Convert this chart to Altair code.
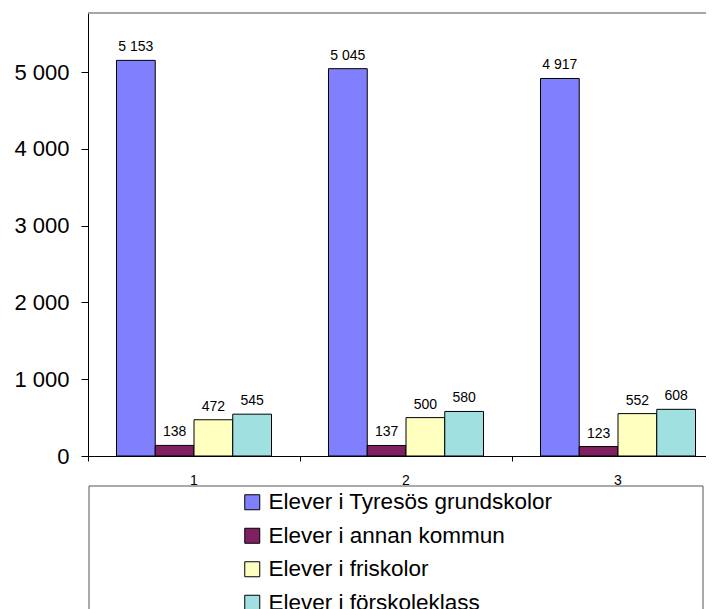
import altair as alt
import pandas as pd

groups = ["1", "2", "3"]
series = [
    "Elever i Tyresös grundskolor",
    "Elever i annan kommun",
    "Elever i friskolor",
    "Elever i förskoleklass",
]
tyreso = [5153, 5045, 4917]
annan = [138, 137, 123]
fri = [472, 500, 552]
forskola = [545, 580, 608]
colors = ["#8080FF", "#802060", "#FFFFC0", "#A0E0E0"]
y_ticks = [0, 1000, 2000, 3000, 4000, 5000]

rows = []
for s, vals in zip(series, [tyreso, annan, fri, forskola]):
    for g, v in zip(groups, vals):
        rows.append({"grupp": g, "serie": s, "antal": v})
df = pd.DataFrame(rows)

FONT = "Liberation Sans, Arial, sans-serif"
W, H = 636, 443
FMT = "replace(format(datum.value, ','), ',', ' ')"

x = alt.X(
    "grupp:N", sort=groups, title=None,
    scale=alt.Scale(paddingInner=0, paddingOuter=0),
    axis=alt.Axis(labelAngle=0, bandPosition=0, tickSize=5,
                  labelPadding=12, labelFontSize=14, labelFont=FONT,
                  labelColor="black", domainColor="black", tickColor="black",
                  grid=False),
)
xo = alt.XOffset("serie:N", sort=series,
                 scale=alt.Scale(paddingInner=0, paddingOuter=0.735))
y = alt.Y(
    "antal:Q", title=None,
    scale=alt.Scale(domain=[0, 5770], nice=False, zero=True),
    axis=alt.Axis(values=y_ticks, labelExpr=FMT, tickSize=7, labelPadding=12,
                  labelFontSize=22, labelFont=FONT, labelColor="black",
                  domainColor="black", tickColor="black", grid=False),
)
color = alt.Color(
    "serie:N", sort=series,
    scale=alt.Scale(domain=series, range=colors),
    legend=alt.Legend(orient="none", legendX=153, legendY=478, title=None,
                      direction="vertical", symbolType="square", symbolSize=225,
                      symbolStrokeColor="black", symbolStrokeWidth=1,
                      labelFont=FONT, labelFontSize=22.5, labelColor="black",
                      labelOffset=5, rowPadding=10.5, labelLimit=0, padding=0),
)

base = alt.Chart(df)
bars = base.mark_bar(stroke="black", strokeWidth=1).encode(
    x=x, xOffset=xo, y=y, color=color
)
labels = base.mark_text(
    font=FONT, fontSize=14, color="black", baseline="alphabetic", dy=-9
).transform_calculate(
    label="replace(format(datum.antal, ','), ',', ' ')"
).encode(x=x, xOffset=xo, y=y, text="label:N")

box = alt.Chart(alt.Data(values=[{}])).mark_rect(
    fillOpacity=0, stroke="#555555", strokeWidth=1
).encode(x=alt.value(1), x2=alt.value(615), y=alt.value(473), y2=alt.value(720))

topline = alt.Chart(alt.Data(values=[{}])).mark_rule(
    color="#888888", strokeWidth=1.5
).encode(x=alt.value(0), x2=alt.value(W), y=alt.value(0))

chart = alt.layer(box, topline, bars, labels).properties(
    width=W, height=H,
    autosize=alt.AutoSizeParams(type="none"),
    padding={"left": 80, "top": 5, "right": -18, "bottom": 153},
).configure_view(stroke=None)

chart.save("out.html", embed_options={"renderer": "svg", "actions": False})
